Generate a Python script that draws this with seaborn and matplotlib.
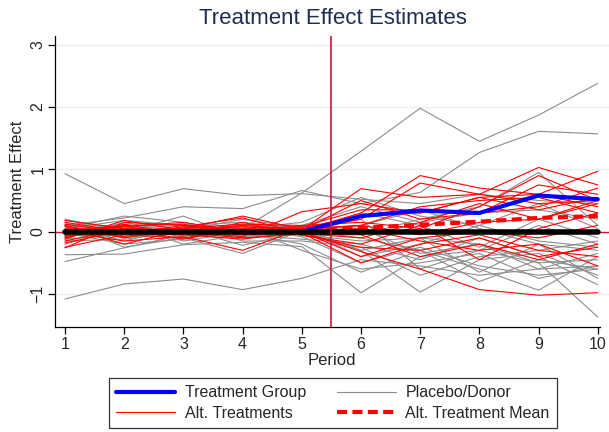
import numpy as np
import pandas as pd
import matplotlib
matplotlib.use("Agg")
import matplotlib.pyplot as plt
from matplotlib.lines import Line2D
import seaborn as sns

periods = [1, 2, 3, 4, 5, 6, 7, 8, 9, 10]
treatment_period = 5.5

treatment_group = [0.0, 0.0, 0.0, 0.0, 0.0, 0.25, 0.34, 0.30, 0.58, 0.52]
alt_treatment_mean = [0.0, 0.0, 0.0, 0.0, 0.0, 0.06, 0.11, 0.16, 0.22, 0.25]
zero_line = [0.0, 0.0, 0.0, 0.0, 0.0, 0.0, 0.0, 0.0, 0.0, 0.0]

alt_treatments = [
    [0.18, 0.05, 0.02, 0.10, 0.03, 0.69, 0.55, 0.60, 0.45, 0.50],
    [-0.05, 0.10, 0.12, -0.05, 0.02, 0.30, 0.90, 0.70, 0.60, 0.40],
    [0.10, -0.10, 0.05, 0.25, 0.04, 0.20, 0.78, 0.60, 1.03, 0.75],
    [-0.15, 0.05, 0.00, -0.08, 0.32, 0.45, 0.30, 0.55, 0.60, 0.97],
    [-0.26, 0.15, 0.10, 0.05, 0.00, -0.32, -0.60, -0.93, -1.02, -0.98],
    [-0.25, -0.05, -0.10, 0.05, -0.02, -0.50, -0.20, -0.05, -0.30, -0.40],
    [0.00, -0.15, -0.08, -0.30, 0.05, 0.10, 0.40, 0.50, 0.55, 0.30],
    [-0.08, 0.08, 0.15, 0.00, -0.05, -0.25, -0.30, -0.10, -0.40, -0.25],
    [0.12, -0.02, 0.05, 0.08, 0.02, 0.50, 0.20, 0.30, 0.75, 0.60],
    [-0.10, 0.12, -0.05, -0.12, 0.00, 0.05, -0.15, -0.30, -0.20, -0.55],
    [0.02, -0.08, 0.08, 0.22, -0.03, -0.10, 0.15, 0.45, 0.20, 0.50],
    [-0.02, 0.05, -0.12, 0.05, 0.08, 0.35, 0.35, 0.30, 0.40, 0.70],
    [0.08, -0.20, 0.03, -0.05, 0.00, -0.40, -0.10, 0.00, -0.10, 0.10],
    [-0.18, 0.02, 0.06, 0.12, 0.10, 0.15, 0.05, 0.40, 0.90, 0.50],
    [0.04, 0.08, -0.02, -0.10, -0.04, -0.05, -0.40, -0.20, -0.45, -0.20],
    [-0.06, -0.04, 0.10, 0.02, 0.06, 0.25, 0.30, 0.55, 0.35, 0.55],
    [0.15, 0.00, -0.05, 0.15, -0.06, -0.20, 0.10, -0.45, 0.05, 0.30],
    [-0.12, 0.18, 0.02, -0.02, 0.03, 0.10, -0.05, 0.15, 0.20, 0.45],
]

placebo_donors = [
    [0.93, 0.45, 0.69, 0.58, 0.61, 0.52, 0.45, 0.60, 0.50, 0.45],
    [0.02, -0.05, 0.03, 0.05, 0.62, 1.29, 1.98, 1.45, 1.87, 2.38],
    [0.10, 0.22, 0.40, 0.37, 0.66, 0.45, 0.63, 1.27, 1.61, 1.57],
    [-1.08, -0.84, -0.76, -0.93, -0.75, -0.45, -0.55, -0.70, -0.60, -0.55],
    [-0.37, -0.36, -0.21, -0.17, -0.24, -0.98, -0.40, -0.30, -0.50, -0.45],
    [-0.48, -0.26, -0.05, 0.10, 0.05, -0.30, -0.97, -0.45, -0.35, -0.70],
    [0.15, -0.25, -0.10, -0.35, 0.02, -0.10, -0.30, -0.60, -0.94, -0.40],
    [-0.05, 0.10, -0.15, 0.00, -0.05, -0.15, -0.10, -0.20, -0.50, -1.37],
    [0.20, 0.00, 0.25, -0.10, -0.02, 0.30, 0.10, -0.25, 0.20, -0.10],
    [0.05, 0.18, 0.10, 0.15, 0.05, -0.40, -0.20, 0.10, -0.15, -0.25],
    [-0.12, -0.05, 0.05, -0.22, 0.00, 0.20, -0.60, -0.30, 0.10, -0.20],
    [0.10, -0.15, 0.08, 0.05, -0.08, -0.50, -0.25, -0.55, -0.70, -0.60],
    [-0.20, 0.05, -0.08, 0.12, 0.03, 0.10, 0.35, 0.05, -0.20, -0.30],
    [0.00, 0.12, -0.20, -0.05, -0.12, -0.20, -0.45, -0.10, -0.40, -0.85],
    [0.08, -0.10, 0.02, 0.20, 0.06, -0.05, 0.20, 0.40, 0.95, 0.10],
    [-0.08, 0.08, 0.12, -0.08, 0.00, -0.30, -0.10, -0.65, -0.20, -0.75],
    [0.12, 0.02, -0.05, 0.08, -0.30, -0.60, -0.50, -0.35, -0.75, -0.55],
    [-0.15, -0.12, 0.00, 0.02, 0.10, 0.40, 0.15, 0.30, 0.35, 0.20],
    [0.05, 0.25, 0.15, -0.15, -0.15, -0.25, -0.70, -0.40, -0.30, -0.15],
    [-0.02, -0.20, -0.12, 0.10, 0.08, 0.05, -0.35, -0.20, -0.60, -0.35],
    [0.18, 0.05, 0.10, -0.02, -0.20, -0.65, -0.30, -0.80, -0.45, -0.60],
    [-0.10, 0.15, -0.02, 0.05, 0.15, 0.55, 0.25, 0.10, 0.45, 0.05],
]

y_ticks = [-1, 0, 1, 2, 3]
x_ticks = periods


def to_long(series_list, prefix):
    rows = []
    for i, vals in enumerate(series_list):
        for p, v in zip(periods, vals):
            rows.append({"unit": f"{prefix}{i}", "period": p, "effect": v})
    return pd.DataFrame(rows)


df_placebo = to_long(placebo_donors, "p")
df_alt = to_long(alt_treatments, "a")
df_main = pd.DataFrame({
    "period": periods,
    "treated": treatment_group,
    "alt_mean": alt_treatment_mean,
    "zero": zero_line,
})

sns.set_theme(style="white")
plt.rcParams["font.family"] = ["Liberation Sans", "DejaVu Sans"]

RED = "#ff0000"
GRAY = "#8c8c8c"
BLUE = "#0000ff"
VLINE = "#c8173c"

fig = plt.figure(figsize=(6.09, 4.32), dpi=100)
ax = fig.add_axes([55 / 609, 1 - 327 / 432, 1 - 55 / 609, (327 - 36) / 432])

ax.set_xlim(0.831, 10.19)
ax.set_ylim(-1.53, 3.14)

# light horizontal grid
for yv in y_ticks:
    ax.axhline(yv, color="#e8f0f2", lw=1.0, zorder=0)

# reference line at zero (extends slightly past the plot on the right)
ax.plot([0.831, 10.19], [0, 0], color=VLINE, lw=1.0, zorder=1, clip_on=False)

sns.lineplot(data=df_placebo, x="period", y="effect", units="unit",
             estimator=None, color=GRAY, lw=0.8, ax=ax, zorder=2, legend=False)
sns.lineplot(data=df_alt, x="period", y="effect", units="unit",
             estimator=None, color=RED, lw=0.8, ax=ax, zorder=3, legend=False)
sns.lineplot(data=df_main, x="period", y="treated", color=BLUE, lw=3.0,
             ax=ax, zorder=4, legend=False)
sns.lineplot(data=df_main, x="period", y="alt_mean", color=RED, lw=3.0,
             ax=ax, zorder=5, legend=False, dashes=False)
ax.lines[-1].set_dashes((2.4, 1.3))
sns.lineplot(data=df_main, x="period", y="zero", color="black", lw=4.0,
             ax=ax, zorder=6, legend=False)

ax.axvline(treatment_period, color=VLINE, lw=1.2, zorder=7)

# axes styling
for side in ["top", "right"]:
    ax.spines[side].set_visible(False)
for side in ["left", "bottom"]:
    ax.spines[side].set_color("black")
    ax.spines[side].set_linewidth(0.9)
ax.spines["bottom"].set_bounds(0.831, 10.03)

ax.set_xticks(x_ticks)
ax.set_xticklabels([str(v) for v in x_ticks])
ax.set_yticks(y_ticks)
ax.set_yticklabels([str(v).replace("-", "\u2212") for v in y_ticks],
                   rotation=90, va="center")
ax.tick_params(axis="both", which="both", direction="out", length=5,
               width=0.9, color="black", labelsize=11.5, pad=2,
               bottom=True, left=True)

ax.set_xlabel("Period", fontsize=12, labelpad=1)
ax.set_ylabel("Treatment Effect", fontsize=12, labelpad=4)
ax.grid(False)

fig.text(333 / 609, 1 - 18 / 432, "Treatment Effect Estimates",
         ha="center", va="center", fontsize=16, color="#1e2d52")

handles = [
    Line2D([], [], color=BLUE, lw=3.0),
    Line2D([], [], color=RED, lw=0.8),
    Line2D([], [], color=GRAY, lw=0.8),
    Line2D([], [], color=RED, lw=3.0, dashes=(2.4, 1.3)),
]
labels = ["Treatment Group", "Alt. Treatments", "Placebo/Donor",
          "Alt. Treatment Mean"]
leg = fig.legend(handles, labels, ncol=2, loc="center",
                 bbox_to_anchor=(333 / 609, 1 - 403 / 432),
                 fontsize=11.5, frameon=True, fancybox=False,
                 edgecolor="black", handlelength=3.7, handletextpad=0.6,
                 columnspacing=1.9, labelspacing=0.35, borderpad=0.45,
                 borderaxespad=0.0)
leg.get_frame().set_linewidth(0.9)

fig.savefig("out.png", dpi=100, facecolor="white")
